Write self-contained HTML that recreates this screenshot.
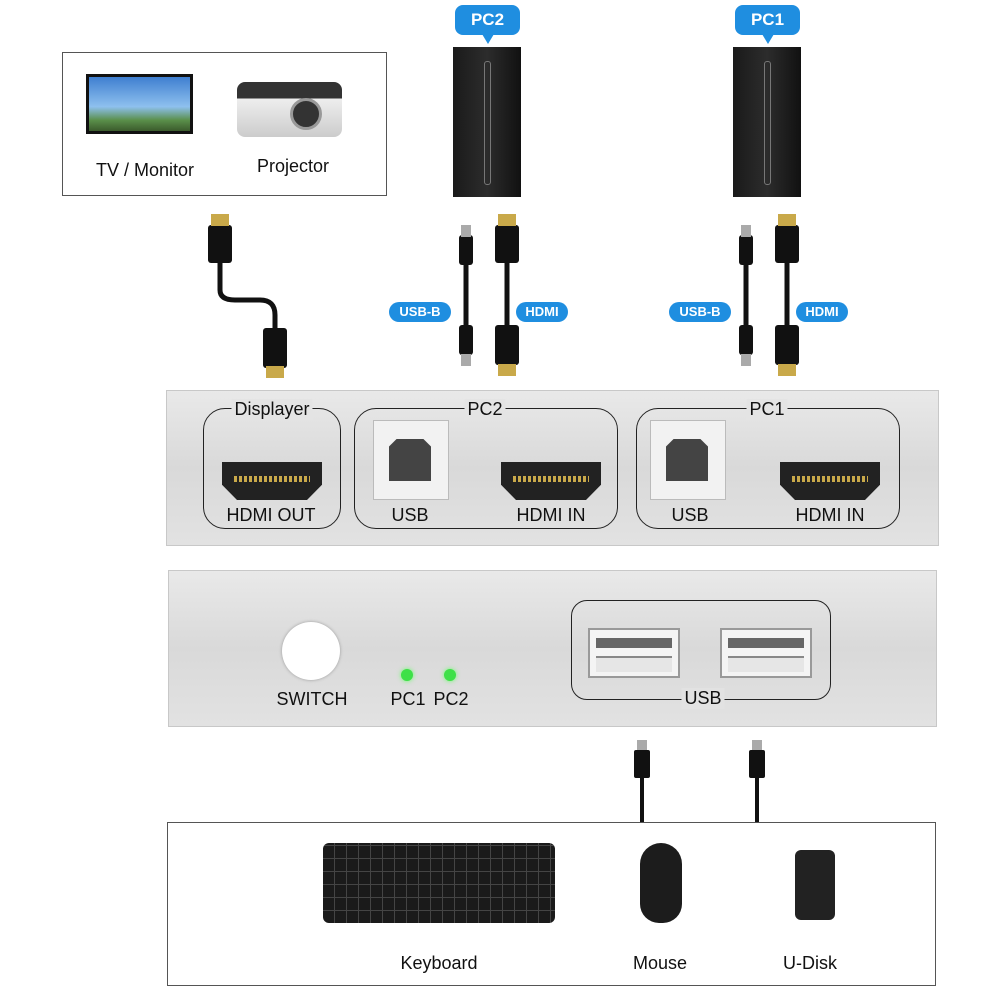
<!DOCTYPE html>
<html><head><meta charset="utf-8"><style>
body{margin:0;background:#fff;font-family:"Liberation Sans",sans-serif;}
#c{position:relative;width:1000px;height:1000px;overflow:hidden;background:#fff;}
.a{position:absolute;}
.lbl{position:absolute;font-size:18px;color:#111;transform:translateX(-50%);white-space:nowrap;}
.panel{position:absolute;background:linear-gradient(180deg,#e9e9e9,#d9d9d9 50%,#e2e2e2);border:1px solid #c8c8c8;}
.grp{position:absolute;border:1.5px solid #222;border-radius:22px;}
.bub{position:absolute;background:#1f8ee0;color:#fff;font-weight:bold;font-size:17px;text-align:center;border-radius:8px;}
.bub:after{content:"";position:absolute;left:27px;bottom:-9px;border-left:6px solid transparent;border-right:6px solid transparent;border-top:10px solid #1f8ee0;}
.tag{position:absolute;background:#1f8ee0;color:#fff;font-size:13px;font-weight:bold;text-align:center;border-radius:10px;height:20px;line-height:20px;}
.tower{position:absolute;width:68px;height:150px;background:linear-gradient(90deg,#1a1a1a,#2c2c2c 50%,#111);}
.tower:after{content:"";position:absolute;left:31px;top:14px;width:5px;height:122px;border:1px solid #777;border-radius:3px;}
.hdmi{position:absolute;width:100px;height:38px;background:#222;clip-path:polygon(0 0,100% 0,100% 60%,85% 100%,15% 100%,0 60%);}
.hdmi:after{content:"";position:absolute;left:12px;top:14px;width:76px;height:6px;background:repeating-linear-gradient(90deg,#c9a94a 0 3px,#222 3px 5px);}
.usbb{position:absolute;width:74px;height:78px;background:#f2f2f2;border:1px solid #bbb;}
.usbb:after{content:"";position:absolute;left:15px;top:18px;width:42px;height:42px;background:#444;clip-path:polygon(18% 0,82% 0,100% 18%,100% 100%,0 100%,0 18%);}
.usba{position:absolute;width:92px;height:50px;background:#f4f4f4;border:2px solid #999;box-sizing:border-box;}
.usba:before{content:"";position:absolute;left:6px;top:8px;width:76px;height:10px;background:#666;}
.usba:after{content:"";position:absolute;left:6px;top:26px;width:76px;height:14px;border-top:2px solid #888;background:#e6e6e6;}
</style></head><body><div id="c">
<div class="a" style="left:62px;top:52px;width:323px;height:142px;border:1px solid #555;"></div>
<div class="a" style="left:86px;top:74px;width:107px;height:60px;background:linear-gradient(180deg,#3f7fd0,#8ec0ee 55%,#5a8f4a 80%,#3b5b2c);border:3px solid #111;box-sizing:border-box;"></div>
<div class="a" style="left:237px;top:82px;width:105px;height:55px;background:linear-gradient(180deg,#333 0 30%,#eee 30%,#ccc);border-radius:8px;"></div>
<div class="a" style="left:290px;top:98px;width:26px;height:26px;border-radius:50%;background:#333;border:3px solid #999;"></div>
<div class="lbl" style="left:145px;top:160px;">TV / Monitor</div>
<div class="lbl" style="left:293px;top:156px;">Projector</div>
<div class="bub" style="left:455px;top:5px;width:65px;height:30px;line-height:30px;">PC2</div>
<div class="bub" style="left:735px;top:5px;width:65px;height:30px;line-height:30px;">PC1</div>
<div class="tower" style="left:453px;top:47px;"></div>
<div class="tower" style="left:733px;top:47px;"></div>
<svg class="a" style="left:0;top:0" width="1000" height="400">
<g stroke="#111" fill="none" stroke-width="5">
<path d="M220 260 V290 Q220 300 235 300 H260 Q275 300 275 315 V330"/>
<path d="M466 260 V360"/><path d="M507 260 V360"/>
<path d="M746 260 V360"/><path d="M787 260 V360"/>
</g>
<g fill="#111">
<rect x="208" y="225" width="24" height="38" rx="3"/><rect x="263" y="328" width="24" height="40" rx="3"/>
<rect x="495" y="225" width="24" height="38" rx="3"/><rect x="495" y="325" width="24" height="40" rx="3"/>
<rect x="775" y="225" width="24" height="38" rx="3"/><rect x="775" y="325" width="24" height="40" rx="3"/>
<rect x="459" y="235" width="14" height="30" rx="3"/><rect x="459" y="325" width="14" height="30" rx="3"/>
<rect x="739" y="235" width="14" height="30" rx="3"/><rect x="739" y="325" width="14" height="30" rx="3"/>
</g>
<g fill="#c9a94a">
<rect x="211" y="214" width="18" height="12"/><rect x="266" y="366" width="18" height="12"/>
<rect x="498" y="214" width="18" height="12"/><rect x="498" y="364" width="18" height="12"/>
<rect x="778" y="214" width="18" height="12"/><rect x="778" y="364" width="18" height="12"/>
</g>
<g fill="#aaa"><rect x="461" y="225" width="10" height="12"/><rect x="461" y="354" width="10" height="12"/>
<rect x="741" y="225" width="10" height="12"/><rect x="741" y="354" width="10" height="12"/></g>
</svg>
<div class="tag" style="left:389px;top:302px;width:62px;">USB-B</div>
<div class="tag" style="left:516px;top:302px;width:52px;">HDMI</div>
<div class="tag" style="left:669px;top:302px;width:62px;">USB-B</div>
<div class="tag" style="left:796px;top:302px;width:52px;">HDMI</div>
<div class="panel" style="left:166px;top:390px;width:771px;height:154px;"></div>
<div class="grp" style="left:203px;top:408px;width:136px;height:119px;"></div>
<div class="grp" style="left:354px;top:408px;width:262px;height:119px;"></div>
<div class="grp" style="left:636px;top:408px;width:262px;height:119px;"></div>
<div class="lbl" style="left:272px;top:399px;background:#e4e4e4;padding:0 3px;">Displayer</div>
<div class="lbl" style="left:485px;top:399px;background:#e4e4e4;padding:0 3px;">PC2</div>
<div class="lbl" style="left:767px;top:399px;background:#e4e4e4;padding:0 3px;">PC1</div>
<div class="hdmi" style="left:222px;top:462px;"></div>
<div class="usbb" style="left:373px;top:420px;"></div>
<div class="hdmi" style="left:501px;top:462px;"></div>
<div class="usbb" style="left:650px;top:420px;"></div>
<div class="hdmi" style="left:780px;top:462px;"></div>
<div class="lbl" style="left:271px;top:505px;">HDMI OUT</div>
<div class="lbl" style="left:410px;top:505px;">USB</div>
<div class="lbl" style="left:551px;top:505px;">HDMI IN</div>
<div class="lbl" style="left:690px;top:505px;">USB</div>
<div class="lbl" style="left:830px;top:505px;">HDMI IN</div>
<div class="panel" style="left:168px;top:570px;width:767px;height:155px;"></div>
<div class="a" style="left:282px;top:622px;width:58px;height:58px;border-radius:50%;background:#fff;box-shadow:0 0 3px #999;"></div>
<div class="a" style="left:401px;top:669px;width:12px;height:12px;border-radius:50%;background:#3ee048;box-shadow:0 0 5px #6f6;"></div>
<div class="a" style="left:444px;top:669px;width:12px;height:12px;border-radius:50%;background:#3ee048;box-shadow:0 0 5px #6f6;"></div>
<div class="lbl" style="left:312px;top:689px;">SWITCH</div>
<div class="lbl" style="left:408px;top:689px;">PC1</div>
<div class="lbl" style="left:451px;top:689px;">PC2</div>
<div class="grp" style="left:571px;top:600px;width:258px;height:98px;border-radius:16px;"></div>
<div class="usba" style="left:588px;top:628px;"></div>
<div class="usba" style="left:720px;top:628px;"></div>
<div class="lbl" style="left:703px;top:688px;background:#e2e2e2;padding:0 3px;">USB</div>
<svg class="a" style="left:0;top:730px" width="1000" height="95">
<g fill="#aaa"><rect x="637" y="10" width="10" height="12"/><rect x="752" y="10" width="10" height="12"/></g>
<g fill="#111"><rect x="634" y="20" width="16" height="28" rx="2"/><rect x="749" y="20" width="16" height="28" rx="2"/></g>
<g stroke="#111" stroke-width="4" fill="none"><path d="M642 48 V92"/><path d="M757 48 V92"/></g>
</svg>
<div class="a" style="left:167px;top:822px;width:767px;height:162px;border:1px solid #555;"></div>
<div class="a" style="left:323px;top:843px;width:232px;height:80px;background:#1a1a1a;border-radius:6px;background-image:repeating-linear-gradient(90deg,transparent 0 11px,#444 11px 12px),repeating-linear-gradient(0deg,transparent 0 12px,#444 12px 13px);"></div>
<div class="a" style="left:640px;top:843px;width:42px;height:80px;background:#1c1c1c;border-radius:21px 21px 19px 19px;"></div>
<div class="a" style="left:795px;top:850px;width:40px;height:70px;background:#222;border-radius:6px;"></div>
<div class="lbl" style="left:439px;top:953px;">Keyboard</div>
<div class="lbl" style="left:660px;top:953px;">Mouse</div>
<div class="lbl" style="left:810px;top:953px;">U-Disk</div>
</div></body></html>
